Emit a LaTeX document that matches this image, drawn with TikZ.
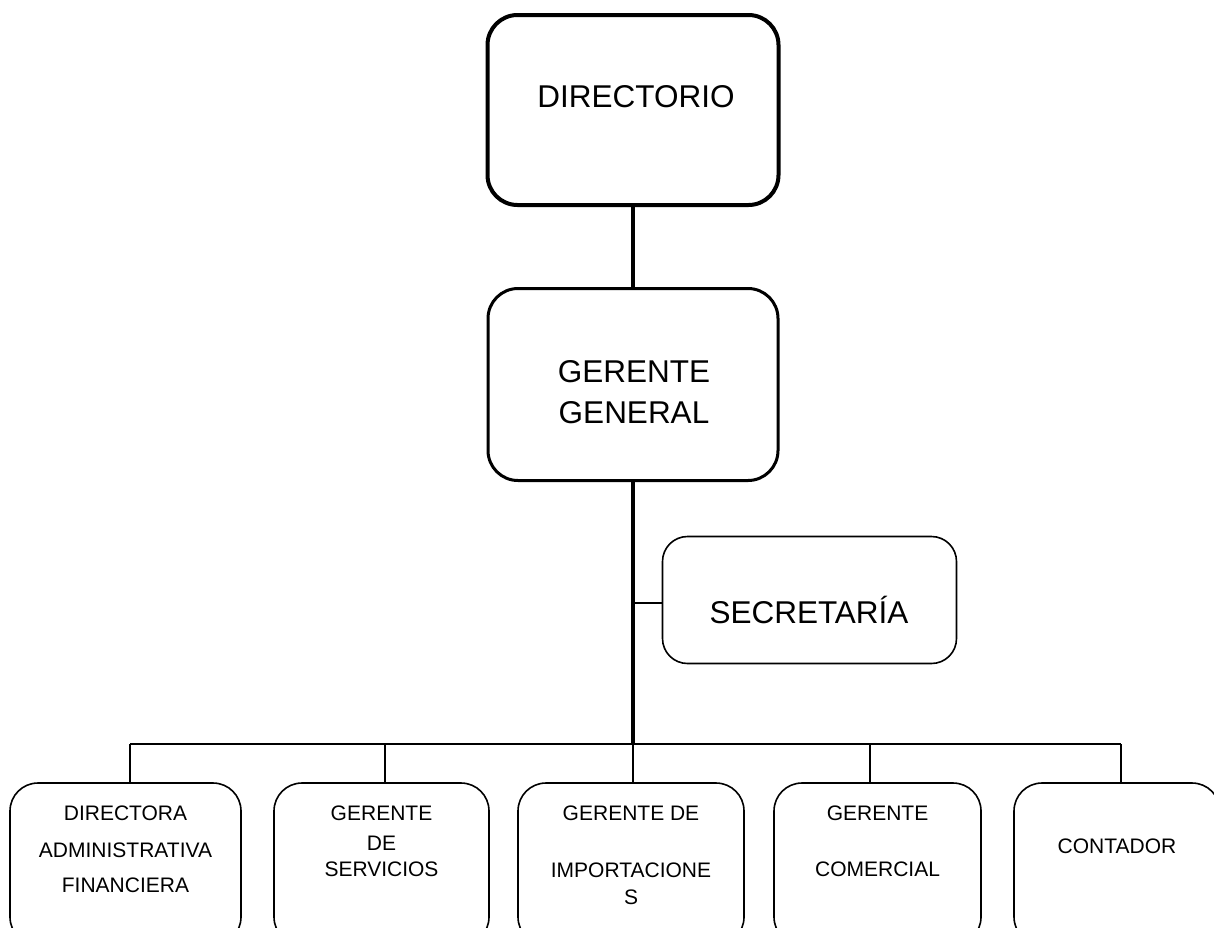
\documentclass[tikz,border=0pt]{standalone}
\usepackage{fontspec}
\setmainfont{Liberation Sans}
\begin{document}
\begin{tikzpicture}[x=1pt,y=-1pt,
  bigbox/.style={draw, rounded corners=30pt, inner sep=0pt},
  smallbox/.style={draw, line width=1.6pt, rounded corners=28pt, inner sep=0pt, minimum height=162pt},
  bigtxt/.style={anchor=base, inner sep=0pt, font=\fontsize{31.5}{36}\selectfont},
  smalltxt/.style={anchor=base, inner sep=0pt, font=\fontsize{21}{25}\selectfont},
  conn/.style={line width=2pt}
]
\useasboundingbox (0,0) rectangle (1214,927);
\clip (0,0) rectangle (1214,927);

% top boxes
\node[bigbox, line width=4pt, minimum width=291pt, minimum height=190pt] (dir) at (633,110) {};
\node[bigbox, line width=3pt, minimum width=290pt, minimum height=192pt] (gg) at (633,384.5) {};
\node[bigbox, line width=1.6pt, rounded corners=25pt, minimum width=294pt, minimum height=127pt] (sec) at (809.5,600) {};

\node[bigtxt] (tdir) at (636,107) {DIRECTORIO};
\node[bigtxt] (tgg1) at (634,382) {GERENTE};
\node[bigtxt] (tgg2) at (634,423) {GENERAL};
\node[bigtxt] (tsec) at (809,623) {SECRETARÍA};

% bottom boxes
\node[smallbox, minimum width=231pt] (b1) at (125.5,864) {};
\node[smallbox, minimum width=215pt] (b2) at (381.5,864) {};
\node[smallbox, minimum width=226pt] (b3) at (631,864) {};
\node[smallbox, minimum width=207pt] (b4) at (877.5,864) {};
\node[smallbox, minimum width=206pt] (b5) at (1117,864) {};

\node[smalltxt] (t11) at (125.5,820) {DIRECTORA};
\node[smalltxt] (t12) at (125.5,857) {ADMINISTRATIVA};
\node[smalltxt] (t13) at (125.5,892) {FINANCIERA};
\node[smalltxt] (t21) at (381.5,820) {GERENTE};
\node[smalltxt] (t22) at (381.5,850) {DE};
\node[smalltxt] (t23) at (381.5,876) {SERVICIOS};
\node[smalltxt] (t31) at (631,820) {GERENTE DE};
\node[smalltxt] (t32) at (631,877) {IMPORTACIONE};
\node[smalltxt] (t33) at (631,904) {S};
\node[smalltxt] (t41) at (877.5,820) {GERENTE};
\node[smalltxt] (t42) at (877.5,876) {COMERCIAL};
\node[smalltxt] (t51) at (1117,853) {CONTADOR};

% connectors
\coordinate (bus) at (633,744);
\coordinate (d1) at (130,744);
\coordinate (d2) at (385,744);
\coordinate (d4) at (870,744);
\coordinate (d5) at (1121,744);

\draw[line width=4.5pt] (dir.south) -- (gg.north);
\draw[line width=3.5pt] (gg.south) -- (bus);
\draw[line width=1.6pt] (sec.west |- 0,603) -- (bus |- 0,603);
\draw[conn] (d1) -- (d5);
\draw[conn] (d1) -- (d1 |- b1.north);
\draw[conn] (d2) -- (d2 |- b2.north);
\draw[conn] (bus) -- (bus |- b3.north);
\draw[conn] (d4) -- (d4 |- b4.north);
\draw[conn] (d5) -- (d5 |- b5.north);
\end{tikzpicture}
\end{document}
